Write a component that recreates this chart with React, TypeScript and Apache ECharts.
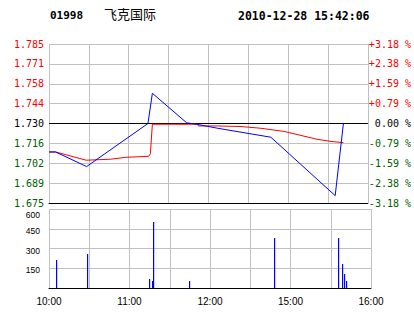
import React, { useEffect, useRef } from 'react';
import * as echarts from 'echarts';

const stockCode = '01998';
const stockName = '飞克国际';
const timestamp = '2010-12-28 15:42:06';

// tick labels, bottom to top
const priceLabels = ['1.675', '1.689', '1.702', '1.716', '1.730', '1.744', '1.758', '1.771', '1.785'];
const pctLabels = ['-3.18 %', '-2.38 %', '-1.59 %', '-0.79 %', '0.00 %', '+0.79 %', '+1.59 %', '+2.38 %', '+3.18 %'];
const prevClose = 1.73;
const priceStep = 0.01375;

const timeTickValues = [0, 60, 120, 180, 240];
const timeTickLabels = ['10:00', '11:00', '12:00', '15:00', '16:00'];

const volTickLabels = ['', '150', '300', '450', '600'];

// price line (blue)
const priceTimes = [0, 5, 28.3, 74.5, 77.8, 103.6, 111, 127, 167, 215.4, 221.6];
const priceValues = [1.7103, 1.7103, 1.7002, 1.73, 1.7509, 1.7305, 1.7295, 1.7267, 1.7205, 1.6801, 1.73];

// average line (red)
const avgTimes = [0, 5, 28, 46.5, 57.7, 75, 76.3, 77.8, 112, 112.5, 127, 144.6, 159.5, 177, 201.8, 213, 221.6];
const avgValues = [1.7103, 1.7103, 1.7046, 1.7053, 1.7066, 1.7073, 1.709, 1.7295, 1.7295, 1.7283, 1.7283, 1.7279, 1.7267, 1.7245, 1.7191, 1.7175, 1.7168];

// volume bars
const volTimes = [5.2, 28.3, 74.5, 76.8, 77.5, 104.3, 167.7, 215.4, 218.4, 219.9, 221.4];
const volValues = [210, 260, 70, 55, 500, 55, 380, 380, 185, 110, 55];

const RED = '#ff0000';
const GREEN = '#006000';
const BLUE = '#0000ff';
const GRAY = '#c0c0c0';
const MONO = 'DejaVu Sans Mono';
const SANS = 'Liberation Sans';

const toLevel = (p: number) => (p - prevClose) / priceStep;
const levelColor = (v: any) => {
  const n = Number(v);
  return n > 0.01 ? RED : n < -0.01 ? GREEN : '#000';
};

export default function App() {
  const ref = useRef<HTMLDivElement>(null);
  useEffect(() => {
    if (!ref.current) return;
    const chart = echarts.init(ref.current, undefined, { renderer: 'svg' });
    const option: any = {
      animation: false,
      backgroundColor: '#fff',
      grid: [
        { left: 49, top: 44, width: 322, height: 159 },
        { left: 49, top: 209, width: 322, height: 79 },
      ],
      graphic: [
        { type: 'text', left: 50, top: 10, style: { text: stockCode, font: `bold 11px "${MONO}"`, fill: '#000' } },
        { type: 'text', left: 104, top: 7, style: { text: stockName, font: '13px "Noto Sans CJK SC"', fill: '#000' } },
        { type: 'text', left: 238, top: 10, style: { text: timestamp, font: `bold 11.5px "${MONO}"`, fill: '#000' } },
      ],
      xAxis: [
        {
          type: 'value', gridIndex: 0, min: 0, max: 240, interval: 30,
          axisLine: { show: true, onZero: false, lineStyle: { color: '#000', width: 1 } },
          axisTick: { show: false }, axisLabel: { show: false },
          splitLine: { show: true, lineStyle: { color: GRAY, width: 1 } },
        },
        {
          type: 'value', gridIndex: 1, min: 0, max: 240, interval: 30,
          axisLine: { show: true, onZero: false, lineStyle: { color: '#000', width: 1 } },
          axisTick: { show: false },
          axisLabel: {
            show: true, margin: 8, color: '#000', fontFamily: SANS, fontSize: 10,
            showMinLabel: true, showMaxLabel: true,
            formatter: (v: number) => {
              const i = timeTickValues.indexOf(Math.round(v));
              return i >= 0 ? timeTickLabels[i] : '';
            },
          },
          splitLine: { show: true, lineStyle: { color: GRAY, width: 1 } },
        },
      ],
      yAxis: [
        {
          type: 'value', gridIndex: 0, min: -4, max: 4, interval: 1, position: 'left',
          axisLine: { show: false }, axisTick: { show: false },
          axisLabel: {
            margin: 5, fontFamily: MONO, fontSize: 10,
            color: levelColor,
            formatter: (v: number) => priceLabels[Math.round(v) + 4],
          },
          splitLine: { show: true, lineStyle: { color: GRAY, width: 1 } },
        },
        {
          type: 'value', gridIndex: 0, min: -4, max: 4, interval: 1, position: 'right',
          axisLine: { show: false }, axisTick: { show: false },
          axisLabel: {
            margin: 1, fontFamily: MONO, fontSize: 10,
            color: levelColor,
            formatter: (v: number) => {
              const i = Math.round(v);
              return i === 0 ? `{z|${pctLabels[4]}}` : pctLabels[i + 4];
            },
            rich: { z: { color: '#000', fontFamily: MONO, fontSize: 10, padding: [0, 0, 0, 6] } },
          },
          splitLine: { show: false },
        },
        {
          type: 'value', gridIndex: 1, min: 0, max: 600, interval: 150,
          axisLine: { show: false }, axisTick: { show: false },
          axisLabel: {
            margin: 9, fontFamily: SANS, fontSize: 8.5, color: '#000',
            formatter: (v: number) => {
              const i = Math.round(v / 150);
              return i === 4 ? `{top|${volTickLabels[i]}}` : `{n|${volTickLabels[i]}}`;
            },
            rich: {
              top: { fontFamily: SANS, fontSize: 8.5, color: '#000', padding: [11, 0, 0, 0] },
              n: { fontFamily: SANS, fontSize: 8.5, color: '#000', padding: [4, 0, 0, 0] },
            },
          },
          splitLine: { show: true, lineStyle: { color: GRAY, width: 1 } },
        },
      ],
      series: [
        {
          type: 'line', xAxisIndex: 0, yAxisIndex: 0,
          data: avgTimes.map((t, i) => [t, toLevel(avgValues[i])]),
          showSymbol: false, symbol: 'none',
          lineStyle: { color: RED, width: 1 },
          z: 3,
        },
        {
          type: 'line', xAxisIndex: 0, yAxisIndex: 0,
          data: priceTimes.map((t, i) => [t, toLevel(priceValues[i])]),
          showSymbol: false, symbol: 'none',
          lineStyle: { color: BLUE, width: 1 },
          z: 4,
          markLine: {
            silent: true, symbol: ['none', 'none'], label: { show: false },
            lineStyle: { color: '#000', width: 1, type: 'solid' },
            data: [{ yAxis: 0 }],
            z: 2,
          },
        },
        {
          type: 'custom', xAxisIndex: 1, yAxisIndex: 2,
          coordinateSystem: 'cartesian2d',
          encode: { x: 0, y: 1 },
          data: volTimes.map((t, i) => [t, volValues[i]]),
          renderItem: (params: any, api: any) => {
            const top = api.coord([api.value(0), api.value(1)]);
            const base = api.coord([api.value(0), 0]);
            const x = Math.round(top[0]);
            return {
              type: 'rect',
              shape: { x, y: Math.round(top[1]), width: 1.2, height: Math.round(base[1]) - Math.round(top[1]) },
              style: { fill: BLUE },
            };
          },
          z: 3,
        },
      ],
    };
    chart.setOption(option);
    return () => chart.dispose();
  }, []);
  return <div ref={ref} style={{ position: 'absolute', left: 0, top: 0, width: 414, height: 314 }} />;
}
